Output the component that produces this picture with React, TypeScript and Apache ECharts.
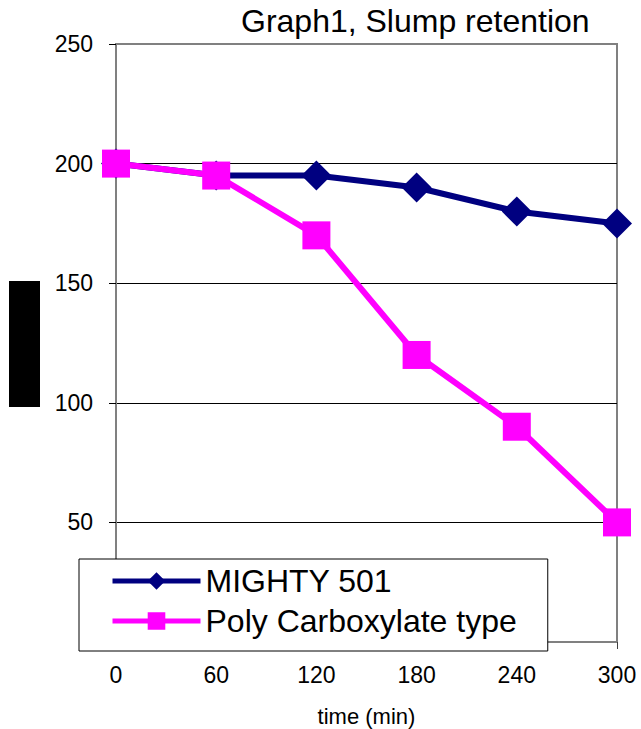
import React, { useEffect, useRef } from "react";
import * as echarts from "echarts";

const timeTicks = [0, 60, 120, 180, 240, 300];
const mightyValues = [200, 195, 195, 190, 180, 175];
const polyValues = [200, 195, 170, 120, 90, 50];
const seriesNames = ["MIGHTY 501", "Poly Carboxylate type"];
const titleText = "Graph1, Slump retention";
const xAxisTitle = "time (min)";

const FONT = "Liberation Sans";

export default function App() {
  const ref = useRef<HTMLDivElement>(null);
  useEffect(() => {
    document.body.style.margin = "0";
    const chart = echarts.init(ref.current!, null, { renderer: "svg" });
    const mk = (vals: number[]) => timeTicks.map((t, i) => [t, vals[i]]);
    chart.setOption({
      animation: false,
      backgroundColor: "#ffffff",
      textStyle: { fontFamily: FONT, color: "#000" },
      title: {
        text: titleText,
        left: 241,
        top: 5,
        padding: 0,
        textStyle: { fontFamily: FONT, fontSize: 32, fontWeight: "normal", color: "#000" },
      },
      grid: {
        left: 116,
        right: 24,
        top: 44,
        bottom: 87,
        outerBoundsMode: "none",
        containLabel: false,
        show: true,
        borderColor: "#808080",
        borderWidth: 2,
        backgroundColor: "transparent",
      },
      legend: {
        data: seriesNames,
        orient: "vertical",
        left: 79,
        top: 559,
        padding: [6, 31, 14, 31],
        itemGap: 8,
        itemWidth: 88,
        itemHeight: 22,
        backgroundColor: "#ffffff",
        borderColor: "#000000",
        borderWidth: 1,
        borderRadius: 0,
        z: 10,
        lineStyle: { width: 5 },
        textStyle: { fontFamily: FONT, fontSize: 32, lineHeight: 32, color: "#000" },
      },
      xAxis: {
        type: "value",
        min: 0,
        max: 300,
        interval: 60,
        name: xAxisTitle,
        nameLocation: "middle",
        nameGap: 63,
        nameTextStyle: { fontFamily: FONT, fontSize: 22, lineHeight: 22, color: "#000" },
        axisLine: { show: true, onZero: false, lineStyle: { color: "#808080", width: 2 } },
        axisTick: { show: true, inside: false, length: 7, lineStyle: { color: "#404040", width: 1 } },
        axisLabel: { fontFamily: FONT, fontSize: 23, color: "#000", margin: 21, showMaxLabel: true },
        splitLine: { show: false },
      },
      yAxis: {
        type: "value",
        min: 0,
        max: 250,
        interval: 50,
        axisLine: { show: true, lineStyle: { color: "#808080", width: 2 } },
        axisTick: { show: true, inside: false, length: 7, lineStyle: { color: "#000", width: 1 } },
        axisLabel: { fontFamily: FONT, fontSize: 23, color: "#000", margin: 23 },
        splitLine: { show: true, showMaxLine: false, lineStyle: { color: "#000", width: 1 } },
      },
      graphic: [
        {
          type: "rect",
          shape: { x: 9, y: 281, width: 31, height: 126 },
          style: { fill: "#000" },
        },
      ],
      series: [
        {
          name: seriesNames[0],
          type: "line",
          data: mk(mightyValues),
          symbol: "diamond",
          symbolSize: 30,
          color: "#000080",
          lineStyle: { color: "#000080", width: 6 },
          itemStyle: { color: "#000080" },
          z: 2,
        },
        {
          name: seriesNames[1],
          type: "line",
          data: mk(polyValues),
          symbol: "rect",
          symbolSize: 28,
          color: "#ff00ff",
          lineStyle: { color: "#ff00ff", width: 6 },
          itemStyle: { color: "#ff00ff" },
          z: 3,
        },
      ],
    });
    return () => chart.dispose();
  }, []);
  return (
    <div
      ref={ref}
      style={{ position: "absolute", left: 0, top: 0, width: 641, height: 729 }}
    />
  );
}
